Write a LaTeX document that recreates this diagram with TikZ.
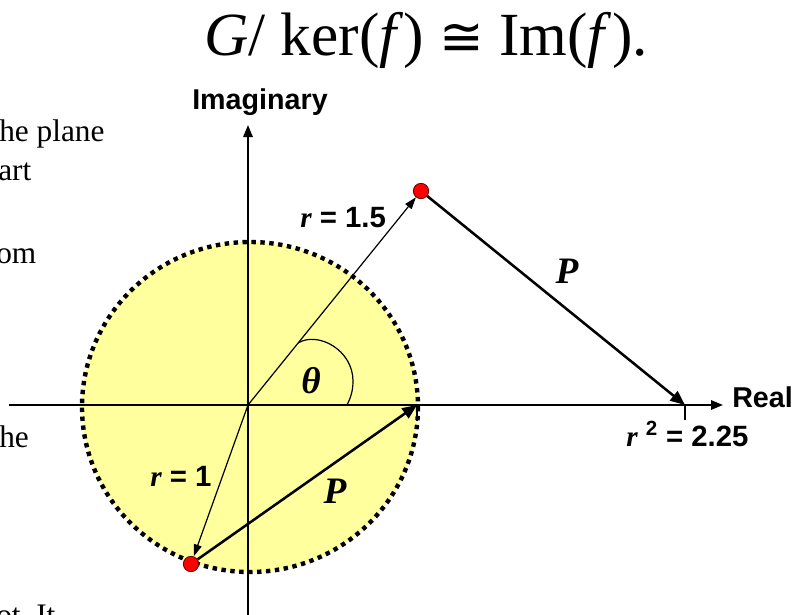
\documentclass[tikz,border=0pt]{standalone}
\usepackage{fontspec}
\setmainfont{Liberation Serif}
\setsansfont{Liberation Sans}
\newfontfamily\symfont{DejaVu Sans}
\usetikzlibrary{arrows.meta,calc}
\definecolor{discfill}{RGB}{255,255,158}
\definecolor{dotred}{RGB}{255,0,0}
\tikzset{
  lbl/.style={font=\sffamily\bfseries\fontsize{22}{24}\selectfont, inner sep=0, anchor=base west},
  axlbl/.style={font=\sffamily\bfseries\fontsize{21.5}{24}\selectfont, inner sep=0, anchor=base west},
  plbl/.style={font=\rmfamily\bfseries\itshape\fontsize{28}{30}\selectfont, inner sep=0},
  sidetext/.style={font=\rmfamily\fontsize{23.5}{26}\selectfont, inner sep=0, anchor=base west},
  reddot/.style={circle, fill=dotred, draw=black!60!red, line width=0.6pt, minimum size=11.5pt, inner sep=0},
  thinarrow/.style={line width=0.9pt, -{Triangle[length=9pt,width=6pt]}},
  thickarrow/.style={line width=1.9pt, -{Triangle[length=11pt,width=9pt]}},
  axisarrow/.style={line width=1.5pt, -{Triangle[length=9pt,width=7pt]}},
  rimdots/.style={line width=3.3pt, dash pattern=on 3.3pt off 3.4pt},
}
\newcommand{\rvar}{{\rmfamily\itshape r}}
\begin{document}
\begin{tikzpicture}[x=0.75pt,y=-0.75pt]
\useasboundingbox (0,0) rectangle (798,614);
\clip (0,0) rectangle (798,614);

% title
\node[font=\rmfamily\fontsize{46}{50}\selectfont, inner sep=0, anchor=base] (title) at (426,55)
  {\textit{G}/ ker(\textit{f}) {\symfont\fontsize{40}{44}\selectfont ≅} Im(\textit{f}).};

% clipped side text
\node[sidetext] (s1) at (-1,141) {he plane};
\node[sidetext] (s2) at (-2,180) {art};
\node[sidetext] (s3) at (-4,263) {om};
\node[sidetext] (s4) at (-1,447) {he};
\node[sidetext] (s5) at (-4,625) {ot.\ It};

% disc
\coordinate (C) at (250,407);
\fill[discfill] (C) ellipse[x radius=168, y radius=165];

% axes
\coordinate (O) at (248,405);
\coordinate (xl) at (9,405);
\coordinate (xr) at (723,405);
\coordinate (yb) at (248,620);
\coordinate (yt) at (248,125);
\draw[axisarrow] (xl) -- (xr);
\draw[axisarrow] (yb) -- (yt);
\node[axlbl] (imag) at (192,109) {Imaginary};
\node[axlbl] (real) at (732,407) {Real};

% rim
\draw[rimdots] (C) ellipse[x radius=168, y radius=165];

% ticks
\coordinate (T1) at (417,405);
\coordinate (T1b) at (417,421);
\coordinate (T2) at (685,405);
\coordinate (T2b) at (685,420);
\draw[line width=1.3pt] (T1) -- (T1b);
\draw[line width=1.3pt] (T2) -- (T2b);

% points
\node[reddot] (D1) at (421,191) {};
\node[reddot] (D2) at (191,564) {};

% radii
\draw[thinarrow] (O) -- (D1);
\draw[thinarrow] (O) -- (D2);

% angle arc
\coordinate (A0) at ($(O)!0.29!(D1)$);
\coordinate (A1) at (353,381);
\coordinate (A2) at (347,405);
\draw[line width=0.9pt] (A0) .. controls (318,331) and (353,350) .. (A1)
  .. controls (353,392) and (350,399) .. (A2);
\node[plbl] (theta) at (311,381) {θ};

% P arrows
\draw[thickarrow] (D1) -- (T2);
\draw[thickarrow] (D2) -- (T1);
\node[plbl] (P1) at (567,271) {P};
\node[plbl] (P2) at (335,491) {P};

% labels
\node[lbl] (r15) at (300,227) {\rvar{} = 1.5};
\node[lbl] (r1) at (150,486) {\rvar{} = 1};
\node[lbl] (r2) at (626,446) {\rvar{} \textsuperscript{2} = 2.25};
\end{tikzpicture}
\end{document}
